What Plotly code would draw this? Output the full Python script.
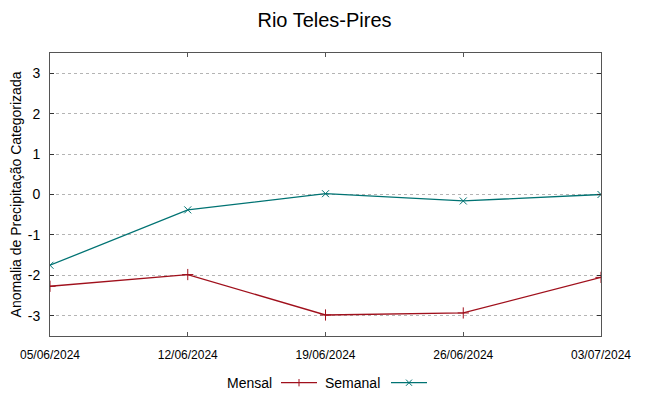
import plotly.graph_objects as go

dates = ["2024-06-05", "2024-06-12", "2024-06-19", "2024-06-26", "2024-07-03"]
tick_labels = ["05/06/2024", "12/06/2024", "19/06/2024", "26/06/2024", "03/07/2024"]
mensal = [-2.27, -1.98, -2.98, -2.93, -2.05]
semanal = [-1.75, -0.38, 0.02, -0.16, 0.0]
y_ticks = [-3, -2, -1, 0, 1, 2, 3]
y_tick_labels = ["-3", "-2", "-1", "0", "1", "2", "3"]

RED = "#a0101c"
TEAL = "#007373"

fig = go.Figure()
fig.add_trace(go.Scatter(x=dates, y=mensal, mode="lines+markers", name="Mensal",
                         line=dict(color=RED, width=1.3),
                         marker=dict(symbol="cross-thin", size=8, line=dict(color=RED, width=1))))
fig.add_trace(go.Scatter(x=dates, y=semanal, mode="lines+markers", name="Semanal",
                         line=dict(color=TEAL, width=1.3),
                         marker=dict(symbol="x-thin", size=7, line=dict(color=TEAL, width=1))))

font_main = "Liberation Sans, Arial, sans-serif"

fig.update_layout(
    width=649, height=396,
    margin=dict(l=50, r=48, t=53, b=60, autoexpand=False),
    paper_bgcolor="white", plot_bgcolor="white",
    showlegend=False,
    title=dict(text="Rio Teles-Pires", x=0.5, xanchor="center", y=0.95, yanchor="middle",
               font=dict(family=font_main, size=20, color="black")),
    font=dict(family=font_main, size=14, color="black"),
)
fig.update_xaxes(
    type="date", range=[dates[0], dates[-1]], automargin=False,
    tickvals=dates, ticktext=tick_labels,
    tickfont=dict(family=font_main, size=12, color="black"),
    ticklabelstandoff=8,
    showgrid=False, zeroline=False,
    showline=True, linecolor="#555555", linewidth=1, mirror="ticks",
    ticks="inside", ticklen=4, tickcolor="#555555",
)
fig.update_yaxes(
    range=[-3.5, 3.5], tickvals=y_ticks, ticktext=y_tick_labels, automargin=False,
    tickfont=dict(family=font_main, size=14, color="black"),
    ticklabelstandoff=6,
    title=dict(text="Anomalia de Precipitação Categorizada", font=dict(family=font_main, size=14), standoff=2),
    showgrid=True, gridcolor="#b4b4b4", griddash="dot", gridwidth=1,
    zeroline=False,
    showline=True, linecolor="#555555", linewidth=1, mirror="ticks",
    ticks="inside", ticklen=4, tickcolor="#333333",
)

# custom legend (gnuplot style: text then sample)
ly = -0.165
def px(x):
    return (x - 50) / (601 - 50)

fig.add_annotation(x=px(274), y=ly, xref="paper", yref="paper", text="Mensal",
                   showarrow=False, xanchor="right", yanchor="middle",
                   font=dict(family=font_main, size=14, color="black"))
fig.add_annotation(x=px(382), y=ly, xref="paper", yref="paper", text="Semanal",
                   showarrow=False, xanchor="right", yanchor="middle",
                   font=dict(family=font_main, size=14, color="black"))
fig.add_shape(type="line", xref="paper", yref="paper", x0=px(281), x1=px(317), y0=ly, y1=ly,
              line=dict(color=RED, width=1.3))
fig.add_shape(type="line", xref="paper", yref="paper", x0=px(299), x1=px(299), y0=ly - 0.013, y1=ly + 0.013,
              line=dict(color=RED, width=1))
fig.add_shape(type="line", xref="paper", yref="paper", x0=px(391), x1=px(427), y0=ly, y1=ly,
              line=dict(color=TEAL, width=1.3))
fig.add_shape(type="line", xref="paper", yref="paper", x0=px(406), x1=px(412), y0=ly - 0.011, y1=ly + 0.011,
              line=dict(color=TEAL, width=1))
fig.add_shape(type="line", xref="paper", yref="paper", x0=px(406), x1=px(412), y0=ly + 0.011, y1=ly - 0.011,
              line=dict(color=TEAL, width=1))

fig.write_html("out.html", config={"displayModeBar": False},
               post_script="document.body.style.margin='0';document.body.style.overflow='hidden';")
